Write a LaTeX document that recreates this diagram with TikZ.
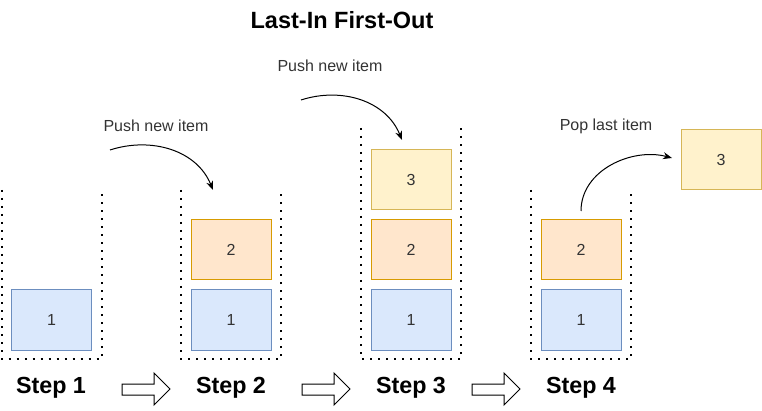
\documentclass[tikz,border=0pt]{standalone}
\usepackage{fontspec}
\setmainfont{Liberation Sans}
\usetikzlibrary{arrows.meta}

\definecolor{bluefill}{HTML}{DAE8FC}
\definecolor{blueline}{HTML}{6C8EBF}
\definecolor{orangefill}{HTML}{FFE6CC}
\definecolor{orangeline}{HTML}{D79B00}
\definecolor{yellowfill}{HTML}{FFF2CC}
\definecolor{yellowline}{HTML}{D6B656}

\tikzset{
  item/.style={minimum width=80pt, minimum height=60pt, inner sep=0pt, line width=1pt,
    font=\fontsize{16}{19}\selectfont, text=black!80},
  itemone/.style={item, draw=blueline, fill=bluefill},
  itemtwo/.style={item, draw=orangeline, fill=orangefill},
  itemthree/.style={item, draw=yellowline, fill=yellowfill},
  stackwall/.style={line width=2pt, dash pattern=on 2pt off 6pt},
  steplabel/.style={font=\fontsize{23.3}{27}\selectfont\bfseries},
  actionlabel/.style={font=\fontsize{16}{19}\selectfont, text=black!80},
  move/.style={line width=1pt, -{Stealth[length=9pt,width=7pt]}},
  stepjump/.style={line width=1pt, fill=white},
}

\begin{document}
\begin{tikzpicture}[x=1pt, y=-1pt]
\useasboundingbox (0,0) rectangle (762,411);

\node[font=\fontsize{23.5}{27}\selectfont\bfseries] (title) at (342,20) {Last-In First-Out};

% the four stacks
\draw[stackwall] (1.5,190) -- (1.5,359) -- (101.5,359) -- (101.5,190);
\draw[stackwall] (181,190) -- (181,359) -- (281,359) -- (281,190);
\draw[stackwall] (361,128) -- (361,359) -- (461,359) -- (461,128);
\draw[stackwall] (531,190) -- (531,359) -- (631,359) -- (631,190);

% items
\node[itemone] (a1) at (51.5,320) {1};

\node[itemone] (b1) at (231,320) {1};
\node[itemtwo] (b2) at (231,250) {2};

\node[itemone] (c1) at (411,320) {1};
\node[itemtwo] (c2) at (411,250) {2};
\node[itemthree] (c3) at (411,180) {3};

\node[itemone] (d1) at (581,320) {1};
\node[itemtwo] (d2) at (581,250) {2};
\node[itemthree] (d3) at (721,160) {3};

% actions
\node[actionlabel] (push1) at (156,126) {Push new item};
\node[actionlabel] (push2) at (330,66) {Push new item};
\node[actionlabel] (pop) at (606,126) {Pop last item};

\coordinate (p1s) at (110,150);
\coordinate (p1e) at (213,190);
\coordinate (p2s) at (301,100);
\coordinate (p2e) at (402,140);
\coordinate (pps) at (581,211);
\coordinate (ppe) at (672,158);
\draw[move] (p1s) to[out=18, in=112] (p1e);
\draw[move] (p2s) to[out=18, in=112] (p2e);
\draw[move] (pps) to[out=90, in=165] (ppe);

% steps
\node[steplabel] (s1) at (51,388) {Step 1};
\node[steplabel] (s2) at (231,388) {Step 2};
\node[steplabel] (s3) at (411,388) {Step 3};
\node[steplabel] (s4) at (581,388) {Step 4};

\draw[stepjump] (122,384) -- ++(32,0) -- ++(0,-11) -- ++(16,16) -- ++(-16,16) -- ++(0,-10) -- ++(-32,0) -- cycle;
\draw[stepjump] (302,384) -- ++(32,0) -- ++(0,-11) -- ++(16,16) -- ++(-16,16) -- ++(0,-10) -- ++(-32,0) -- cycle;
\draw[stepjump] (472,384) -- ++(32,0) -- ++(0,-11) -- ++(16,16) -- ++(-16,16) -- ++(0,-10) -- ++(-32,0) -- cycle;
\end{tikzpicture}
\end{document}
